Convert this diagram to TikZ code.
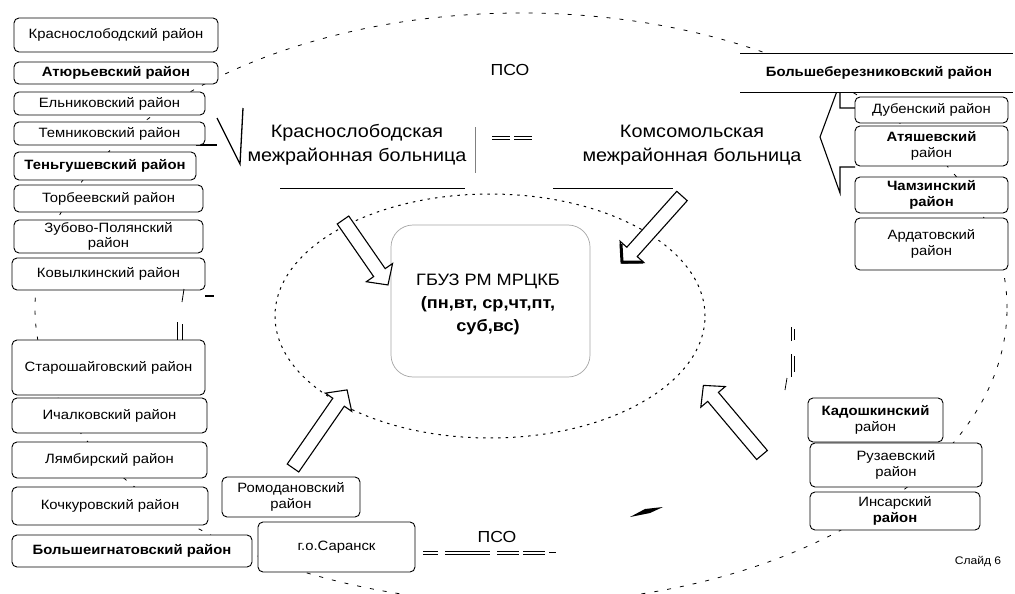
\documentclass[tikz,border=0pt]{standalone}
\usepackage{fontspec}
\setmainfont{Liberation Sans}[FakeStretch=1.1]
\tikzset{
  dbox/.style={draw, line width=0.9pt, rounded corners=5pt, fill=white, inner sep=1pt,
    align=center, font=\fontsize{13.5}{15.5}\selectfont},
  bigtxt/.style={align=center, font=\fontsize{18}{24}\selectfont},
  barrow/.style={draw, line width=1.1pt, fill=white, line join=miter},
  bigell/.style={line width=0.8pt, dash pattern=on 4pt off 9pt},
  inell/.style={line width=1pt, dash pattern=on 2.5pt off 5pt},
  dblline/.style={double, double distance=2.4pt, line width=0.6pt},
}
\newcommand\blkarrow[4]{%
  \draw[barrow, shift={(#1,#2)}, rotate=#3] (0,-7) -- ({#4-15},-7) -- ({#4-15},-16) -- (#4,0)
    -- ({#4-15},16) -- ({#4-15},7) -- (0,7) -- cycle;}
\begin{document}
\begin{tikzpicture}[x=1pt,y=-1pt]
\useasboundingbox (0,0) rectangle (1015,594);
\fill[white] (0,0) rectangle (1015,594);
% outer dashed ellipse
\begin{scope}
  \clip (0,0) rectangle (1015,594);
  \draw[bigell] (521,308) ellipse [x radius=486pt, y radius=295pt];
\end{scope}
% inner dotted ellipse
\draw[inell] (490,316) ellipse [x radius=215pt, y radius=122pt];
% central rounded box
\node[draw=gray!70, line width=0.7pt, rounded corners=22pt, minimum width=199pt, minimum height=152pt] (ctr) at (490.5,301) {};
\node[align=center, font=\fontsize{16.5}{23}\selectfont] (gbuz) at (488,304)
  {ГБУЗ РМ МРЦКБ\\\textbf{(пн,вт, ср,чт,пт,}\\\textbf{суб,вс)}};
% block arrows
\blkarrow{343}{220}{-55.3}{79}
\blkarrow{682}{196}{228.2}{90}
\draw[line width=3pt] (621,244) -- (622,262) -- (643,262);
\blkarrow{293}{468}{55.3}{95}
\blkarrow{762}{455}{130.1}{91}
% arrow to the left from right group
\draw[barrow] (855,108) -- (840,108) -- (840,83) -- (820,137) -- (840,193) -- (840,167) -- (855,167);
% marks at left
\draw[line width=1.3pt] (217,118) -- (240,164) -- (243,108);
\draw[line width=1.2pt] (196,145) -- (217,145);
% titles
\node[font=\fontsize{16}{18}\selectfont] (pso1) at (510,70) {ПСО};
\node[bigtxt] (krmb) at (357,145) {Краснослободская\\межрайонная больница};
\node[bigtxt] (kmmb) at (692,145) {Комсомольская\\межрайонная больница};
\draw[gray, line width=0.7pt] (475,127) -- (475,173);
\draw[dblline] (492,138) -- (510,138);
\draw[dblline] (514,138) -- (532,138);
\draw[line width=0.9pt] (280,188) -- (465,188);
\draw[line width=0.9pt] (553,188) -- (673,188);
% left boxes
\node[dbox, minimum width=204pt, minimum height=34pt] (krs) at (116,35) {Краснослободский район};
\node[dbox, minimum width=204pt, minimum height=22pt] (atyur) at (116,73) {\textbf{Атюрьевский район}};
\node[dbox, minimum width=191pt, minimum height=23pt] (eln) at (109.5,103.5) {Ельниковский район};
\node[dbox, minimum width=191pt, minimum height=23pt] (temn) at (109.5,133.5) {Темниковский район};
\node[dbox, minimum width=182pt, minimum height=28pt] (teng) at (105,166) {\textbf{Теньгушевский район}};
\node[dbox, minimum width=189pt, minimum height=27pt] (torb) at (108.5,198.5) {Торбеевский район};
\node[dbox, minimum width=189pt, minimum height=33pt] (zub) at (108.5,236.5) {Зубово-Полянский\\район};
\node[dbox, minimum width=193pt, minimum height=32pt] (kovyl) at (108.5,274) {Ковылкинский район};
\draw[line width=1.6pt] (205,296) -- (214,296);
\draw[line width=0.8pt] (184,289) -- (182,302);
\draw[line width=0.8pt] (177,322) -- (177,340);
\draw[line width=0.8pt] (182,324) -- (182,340);
\node[dbox, minimum width=193pt, minimum height=55pt] (star) at (108.5,367.5) {Старошайговский район};
\node[dbox, minimum width=195pt, minimum height=35pt] (ichal) at (109.5,415.5) {Ичалковский район};
\node[dbox, minimum width=195pt, minimum height=36pt] (lyamb) at (109.5,460) {Лямбирский район};
\node[dbox, minimum width=196pt, minimum height=38pt] (kochk) at (110,506) {Кочкуровский район};
\node[dbox, minimum width=240pt, minimum height=32pt] (bign) at (132,551) {\textbf{Большеигнатовский район}};
\node[dbox, minimum width=138pt, minimum height=40pt] (romod) at (291,497) {Ромодановский\\район};
\node[dbox, minimum width=157pt, minimum height=50pt] (sar) at (336.5,547) {г.о.Саранск};
% right boxes
\node[dbox, rounded corners=0pt, draw=none, minimum width=268pt, minimum height=39pt] (bber) at (879,72.5) {\textbf{Большеберезниковский район}};
\draw[line width=0.9pt] (740,53) -- (1013,53);
\draw[line width=0.9pt] (740,92) -- (1013,92);
\node[dbox, minimum width=153pt, minimum height=26pt] (dub) at (931.5,110) {Дубенский район};
\node[dbox, minimum width=153pt, minimum height=40pt] (atyash) at (931.5,146) {\textbf{Атяшевский}\\район};
\node[dbox, minimum width=153pt, minimum height=36pt] (chamz) at (931.5,195) {\textbf{Чамзинский}\\\textbf{район}};
\node[dbox, minimum width=153pt, minimum height=52pt] (ardat) at (931.5,244) {Ардатовский\\район};
\node[dbox, minimum width=135pt, minimum height=44pt] (kad) at (875.5,420) {\textbf{Кадошкинский}\\район};
\node[dbox, minimum width=172pt, minimum height=44pt] (ruz) at (896,465) {Рузаевский\\район};
\node[dbox, minimum width=170pt, minimum height=38pt] (ins) at (895,511) {Инсарский\\\textbf{район}};
% small marks at right
\draw[line width=0.8pt] (791,327) -- (791,341);
\draw[line width=0.8pt] (794,329) -- (794,340);
\draw[line width=0.8pt] (791,354) -- (791,377);
\draw[line width=0.8pt] (794,356) -- (794,372);
\draw[line width=0.8pt] (787,378) -- (785,390);
% bottom
\fill (630,517) -- (645,509) -- (663,507) -- (650,513) -- cycle;
\node[font=\fontsize{16}{18}\selectfont] (pso2) at (497,537) {ПСО};
\draw[dblline] (423,553) -- (438,553);
\draw[dblline] (445,553) -- (490,553);
\draw[dblline] (497,553) -- (519,553);
\draw[dblline] (523,553) -- (545,553);
\draw[line width=0.7pt] (549,552) -- (556,552);
\node[font=\fontsize{11}{13}\selectfont] (slide) at (978,562) {Слайд 6};
\end{tikzpicture}
\end{document}
